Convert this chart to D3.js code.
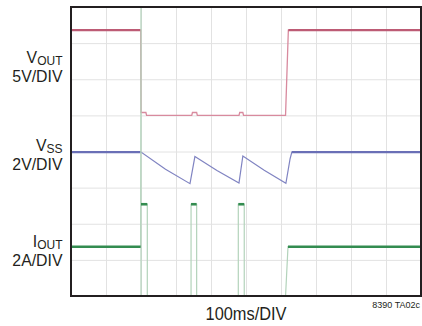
<!DOCTYPE html>
<html>
<head>
<meta charset="utf-8">
<script src="https://cdn.jsdelivr.net/npm/d3@7"></script>
<style>
  body { margin: 0; background: #fff; }
  text { font-family: "Liberation Sans", Arial, Helvetica, sans-serif; fill: #231f20; }
</style>
</head>
<body>
<div id="scope"></div>
<script>
// grid: 10 x 100ms divisions, 8 vertical divisions
var xTicks = d3.range(0, 1001, 100);
var yTicks = d3.range(0, 9, 1);

// VOUT trace (ms, V) 5V/DIV
var voutT = [0, 199, 200, 214, 216, 345, 347, 359, 361, 480, 482, 491, 493, 613, 621, 1000];
var voutV = [11.8, 11.8, 0.4, 0.4, 0, 0, 0.4, 0.4, 0, 0, 0.4, 0.4, 0, 0, 11.8, 11.8];

// VSS trace (ms, V) 2V/DIV
var vssT = [0, 200, 270, 340, 354, 417, 480, 491, 552, 614, 626, 631, 1000];
var vssV = [1.97, 1.97, 1.02, 0.22, 1.72, 0.95, 0.26, 1.75, 0.96, 0.24, 1.6, 1.97, 1.97];

// IOUT trace (ms, A) 2A/DIV
var ioutT = [0, 199, 200, 200, 200, 218, 218, 343, 343, 359, 359, 478, 478, 495, 495, 613, 620, 1000];
var ioutA = [2.73, 2.73, 16, 0, 5.08, 5.08, 0, 0, 5.08, 5.08, 0, 0, 5.08, 5.08, 0, 0, 2.73, 2.73];

var svgW = 422, svgH = 326;
var margin = { top: 7, right: 1, bottom: 30, left: 71 };
var width = svgW - margin.left - margin.right;
var height = svgH - margin.top - margin.bottom;

var svg = d3.select("#scope").append("svg")
  .attr("width", svgW)
  .attr("height", svgH);

var chartGroup = svg.append("g")
  .attr("transform", `translate(${margin.left}, ${margin.top})`);

var xScale = d3.scaleLinear().domain([0, 1000]).range([0, width]);
var yScale = d3.scaleLinear().domain([0, 8]).range([height, 0]);

// grid lines
chartGroup.append("g")
  .attr("class", "grid")
  .attr("transform", `translate(0, ${height})`)
  .call(d3.axisBottom(xScale).tickValues(xTicks).tickSize(-height).tickFormat(""));
chartGroup.append("g")
  .attr("class", "grid")
  .call(d3.axisLeft(yScale).tickValues(yTicks).tickSize(-width).tickFormat(""));
chartGroup.selectAll(".grid .domain").remove();
chartGroup.selectAll(".grid line")
  .attr("stroke", "#e2e2e2")
  .attr("stroke-width", 1);

svg.append("clipPath").attr("id", "plotClip")
  .append("rect").attr("width", width).attr("height", height);

var traces = chartGroup.append("g").attr("clip-path", "url(#plotClip)");

function drawTrace(ts, vals, zeroDiv, perDiv, lightColor, lightW, heavyColor, heavyMin, heavyW) {
  var pts = ts.map((t, i) => [xScale(t), yScale(zeroDiv + vals[i] / perDiv)]);
  traces.append("path")
    .attr("d", d3.line()(pts))
    .attr("fill", "none")
    .attr("stroke", lightColor)
    .attr("stroke-width", lightW);
  // bright (steady) horizontal parts of the trace
  for (var i = 1; i < pts.length; i++) {
    if (vals[i] === vals[i - 1] && vals[i] >= heavyMin && ts[i] > ts[i - 1]) {
      traces.append("line")
        .attr("x1", pts[i - 1][0]).attr("x2", pts[i][0])
        .attr("y1", pts[i - 1][1]).attr("y2", pts[i][1])
        .attr("stroke", heavyColor)
        .attr("stroke-width", heavyW);
    }
  }
}

drawTrace(voutT, voutV, 5, 5, "#d88a9e", 1.3, "#bd5b75", 5, 2.2);
drawTrace(vssT, vssV, 3, 2, "#8084c2", 1.2, "#6a6fb6", 1.5, 2.2);
drawTrace(ioutT, ioutA, 0, 2, "#b3d3bb", 1.2, "#338c50", 1, 2.6);

// frame
chartGroup.append("rect")
  .attr("width", width)
  .attr("height", height)
  .attr("fill", "none")
  .attr("stroke", "#231f20")
  .attr("stroke-width", 2);

// channel labels
function chLabel(main, sub, scale, y) {
  var g = svg.append("g").attr("transform", `translate(62.5, ${y}) scale(0.96, 1)`);
  var t = g.append("text").attr("text-anchor", "end").attr("font-size", "16.5px");
  t.append("tspan").text(main);
  t.append("tspan").attr("font-size", "12.5px").attr("dy", "2.5").text(sub);
  svg.append("g").attr("transform", `translate(62.5, ${y + 19.5}) scale(0.96, 1)`)
    .append("text")
    .attr("text-anchor", "end")
    .attr("font-size", "16.5px")
    .text(scale);
}
chLabel("V", "OUT", "5V/DIV", 62.5);
chLabel("V", "SS", "2V/DIV", 150.5);
chLabel("I", "OUT", "2A/DIV", 246.5);

svg.append("g").attr("transform", `translate(${margin.left + width / 2}, 319.5) scale(0.91, 1)`)
  .append("text")
  .attr("text-anchor", "middle")
  .attr("font-size", "18px")
  .text("100ms/DIV");

svg.append("g").attr("transform", "translate(420, 308) scale(0.95, 1)")
  .append("text")
  .attr("text-anchor", "end")
  .attr("font-size", "9.5px")
  .text("8390 TA02c");
</script>
</body>
</html>
